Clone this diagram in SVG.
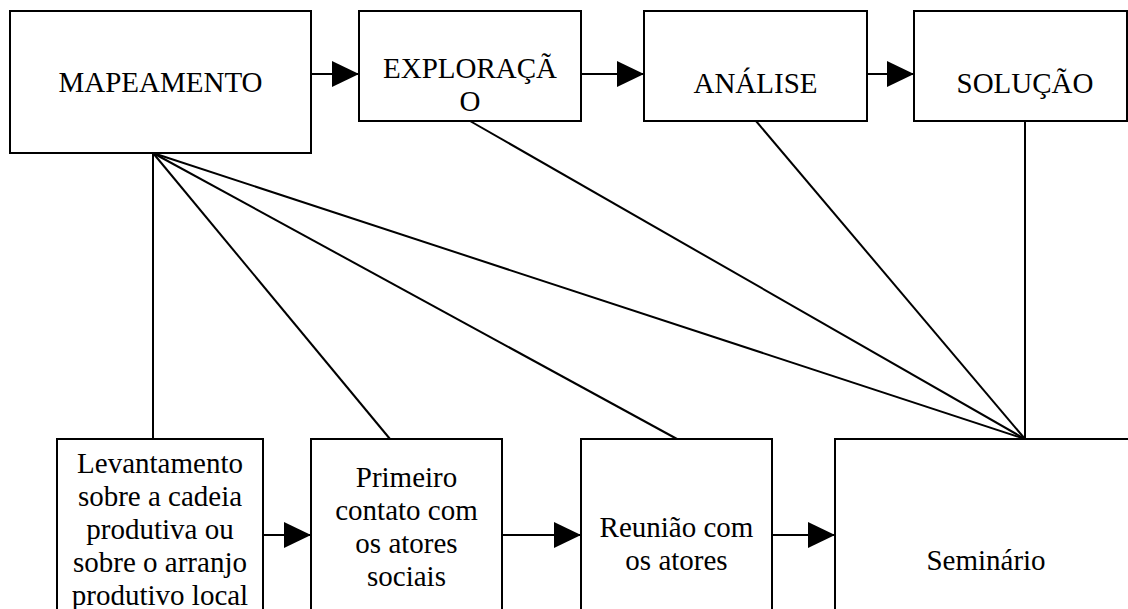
<svg xmlns="http://www.w3.org/2000/svg" width="1128" height="609" viewBox="0 0 1128 609">
<style>
.box{fill:#fff;stroke:#000;stroke-width:2}
.t{font-family:"Liberation Serif","Times New Roman",serif;font-size:29px;fill:#000;text-anchor:middle}
.ln{stroke:#000;stroke-width:2;fill:none}
.arr{stroke:#000;stroke-width:2;fill:none;marker-end:url(#ah)}
</style>
<defs>
<marker id="ah" markerUnits="userSpaceOnUse" markerWidth="28" markerHeight="28" refX="27" refY="13" orient="auto">
<path d="M0,0 L27,13 L0,26 z" fill="#000"/>
</marker>
</defs>
<rect width="1128" height="609" fill="#fff"/>
<g id="connectors">
<line class="ln" x1="153" y1="153" x2="153" y2="439"/>
<line class="ln" x1="153" y1="153" x2="390" y2="439"/>
<line class="ln" x1="153" y1="153" x2="677" y2="439"/>
<line class="ln" x1="153" y1="153" x2="1025" y2="439"/>
<line class="ln" x1="470" y1="121" x2="1025" y2="439"/>
<line class="ln" x1="756" y1="121" x2="1025" y2="439"/>
<line class="ln" x1="1025" y1="121" x2="1025" y2="439"/>
<line class="arr" x1="311" y1="74" x2="359" y2="74"/>
<line class="arr" x1="581" y1="74" x2="644" y2="74"/>
<line class="arr" x1="867" y1="74" x2="914" y2="74"/>
<line class="arr" x1="263" y1="535" x2="311" y2="535"/>
<line class="arr" x1="502" y1="535" x2="581" y2="535"/>
<line class="arr" x1="772" y1="535" x2="835" y2="535"/>
</g>
<g id="mapeamento">
<rect class="box" x="10" y="11" width="301" height="142"/>
<text class="t" x="160.5" y="92">MAPEAMENTO</text>
</g>
<g id="exploracao">
<rect class="box" x="359" y="11" width="222" height="110"/>
<text class="t" x="470" y="78">EXPLORAÇÃ</text>
<text class="t" x="470" y="111">O</text>
</g>
<g id="analise">
<rect class="box" x="644" y="11" width="223" height="110"/>
<text class="t" x="755.5" y="93">ANÁLISE</text>
</g>
<g id="solucao">
<rect class="box" x="914" y="11" width="213" height="110"/>
<text class="t" x="1025" y="93">SOLUÇÃO</text>
</g>
<g id="levantamento">
<rect class="box" x="57" y="439" width="206" height="190"/>
<text class="t" x="160" y="473">Levantamento</text>
<text class="t" x="160" y="506">sobre a cadeia</text>
<text class="t" x="160" y="539">produtiva ou</text>
<text class="t" x="160" y="572">sobre o arranjo</text>
<text class="t" x="160" y="605">produtivo local</text>
</g>
<g id="primeiro">
<rect class="box" x="311" y="439" width="191" height="190"/>
<text class="t" x="406.5" y="487">Primeiro</text>
<text class="t" x="406.5" y="520">contato com</text>
<text class="t" x="406.5" y="553">os atores</text>
<text class="t" x="406.5" y="586">sociais</text>
</g>
<g id="reuniao">
<rect class="box" x="581" y="439" width="191" height="190"/>
<text class="t" x="676.5" y="537">Reunião com</text>
<text class="t" x="676.5" y="570">os atores</text>
</g>
<g id="seminario">
<rect class="box" x="835" y="439" width="320" height="190"/>
<text class="t" x="986" y="570">Seminário</text>
</g>
</svg>
